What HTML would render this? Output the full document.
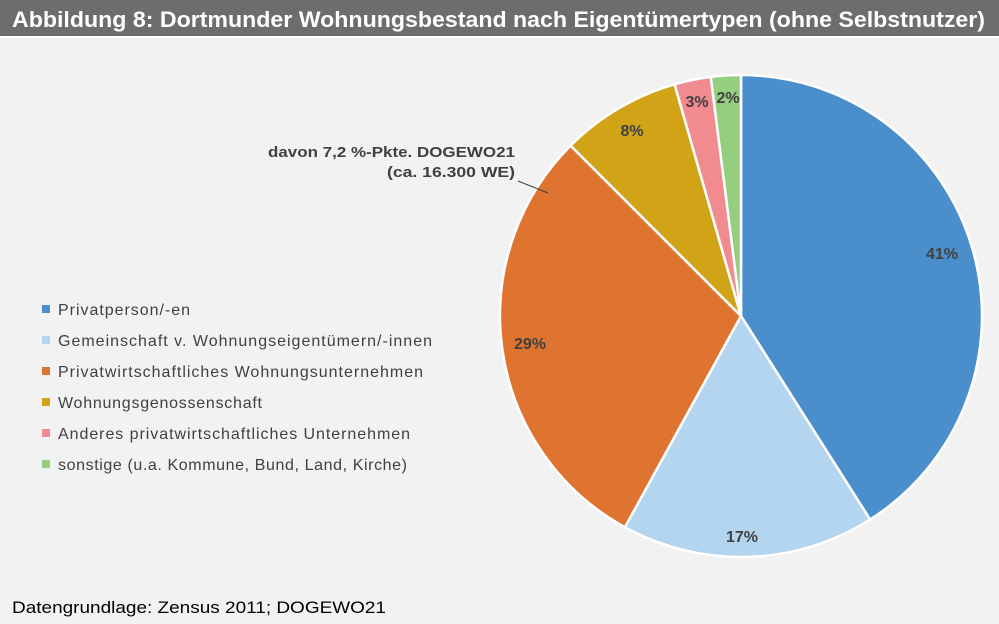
<!DOCTYPE html>
<html><head><meta charset="utf-8"><style>
html,body{margin:0;padding:0;background:#f2f2f2;}
</style></head><body>
<svg width="999" height="624" xmlns="http://www.w3.org/2000/svg" style="display:block">
<rect width="999" height="624" fill="#f2f2f2"/>
<rect width="999" height="36" fill="#6d6d6d"/>
<rect y="36" width="999" height="2" fill="#ffffff"/>
<text x="12" y="27" font-family="Liberation Sans, sans-serif" font-weight="bold" font-size="22" fill="#fff" textLength="973" lengthAdjust="spacingAndGlyphs">Abbildung 8:   Dortmunder Wohnungsbestand nach Eigentümertypen (ohne Selbstnutzer)</text>
<g stroke="#fff" stroke-width="2.5" stroke-linejoin="round">
<path d="M741,316 L741,75 A241,241 0 0 1 870.1,519.5 Z" fill="#4a8fcb"/>
<path d="M741,316 L870.1,519.5 A241,241 0 0 1 624.9,527.2 Z" fill="#b4d5f0"/>
<path d="M741,316 L624.9,527.2 A241,241 0 0 1 570.6,145.6 Z" fill="#df7431"/>
<path d="M741,316 L570.6,145.6 A241,241 0 0 1 674.6,84.3 Z" fill="#d1a418"/>
<path d="M741,316 L674.6,84.3 A241,241 0 0 1 710.8,76.9 Z" fill="#f28b90"/>
<path d="M741,316 L710.8,76.9 A241,241 0 0 1 741,75 Z" fill="#94ce7e"/>
</g>
<g font-family="Liberation Sans, sans-serif" font-weight="bold" font-size="16" fill="#404040" text-anchor="middle">
<text x="942" y="259">41%</text>
<text x="742" y="542">17%</text>
<text x="530" y="349">29%</text>
<text x="632" y="136">8%</text>
<text x="697" y="107">3%</text>
<text x="728" y="103">2%</text>
</g>
<g font-family="Liberation Sans, sans-serif" font-weight="bold" font-size="15" fill="#404040">
<text x="268" y="157" textLength="247" lengthAdjust="spacingAndGlyphs">davon 7,2 %-Pkte. DOGEWO21</text>
<text x="387" y="177" textLength="128" lengthAdjust="spacingAndGlyphs">(ca. 16.300 WE)</text>
</g>
<line x1="518" y1="181" x2="548" y2="193" stroke="#404040" stroke-width="1"/>
<g font-family="Liberation Sans, sans-serif" font-size="16" fill="#404040" lengthAdjust="spacingAndGlyphs">
<rect x="42" y="305" width="8" height="8" fill="#4a8fcb"/><text x="58" y="315" textLength="132">Privatperson/-en</text>
<rect x="42" y="336" width="8" height="8" fill="#b4d5f0"/><text x="58" y="346" textLength="374">Gemeinschaft v. Wohnungseigentümern/-innen</text>
<rect x="42" y="367" width="8" height="8" fill="#df7431"/><text x="58" y="377" textLength="365">Privatwirtschaftliches Wohnungsunternehmen</text>
<rect x="42" y="398" width="8" height="8" fill="#d1a418"/><text x="58" y="408" textLength="204">Wohnungsgenossenschaft</text>
<rect x="42" y="429" width="8" height="8" fill="#f28b90"/><text x="58" y="439" textLength="352">Anderes privatwirtschaftliches Unternehmen</text>
<rect x="42" y="460" width="8" height="8" fill="#94ce7e"/><text x="58" y="470" textLength="349">sonstige (u.a. Kommune, Bund, Land, Kirche)</text>
</g>
<text x="12" y="613" font-family="Liberation Sans, sans-serif" font-size="17" fill="#000" textLength="374" lengthAdjust="spacingAndGlyphs">Datengrundlage: Zensus 2011; DOGEWO21</text>
</svg>
</body></html>
